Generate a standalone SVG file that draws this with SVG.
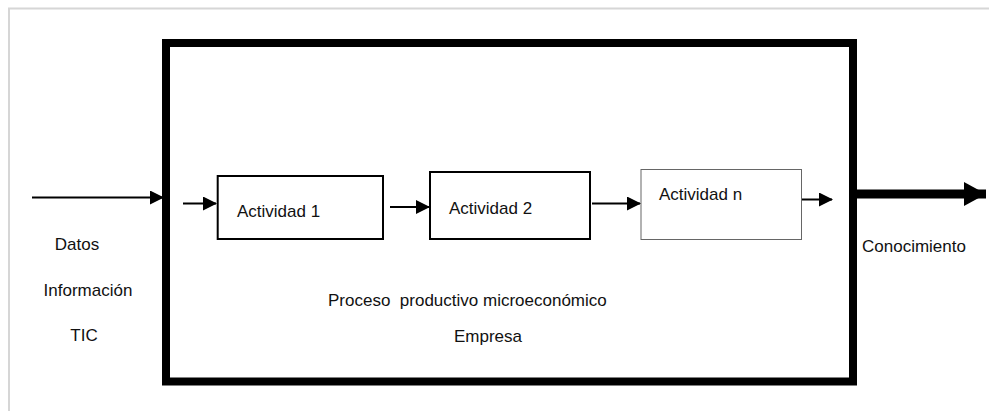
<svg xmlns="http://www.w3.org/2000/svg" width="989" height="411" viewBox="0 0 989 411">
<defs>
<style>
text{font-family:"Liberation Sans",Arial,sans-serif;font-size:17px;fill:#111;white-space:pre}
.box{fill:#fff;stroke:#000;stroke-width:2}
.conn{stroke:#000;stroke-width:2;fill:none}
</style>
<marker id="ah" markerWidth="14" markerHeight="14" refX="13" refY="7" orient="auto" markerUnits="userSpaceOnUse">
<path d="M0,0 L14,7 L0,14 Z" fill="#000"/>
</marker>
<marker id="ahbig" markerWidth="22" markerHeight="24" refX="22" refY="12" orient="auto" markerUnits="userSpaceOnUse">
<path d="M0,0 L22,12 L0,24 Z" fill="#000"/>
</marker>
</defs>
<rect width="989" height="411" fill="#fff"/>
<path d="M9,411 V8.5 H989" fill="none" stroke="#d6d6d6" stroke-width="2"/>
<g id="empresa">
<rect x="166" y="43" width="687" height="338.5" fill="none" stroke="#000" stroke-width="8"/>
<text x="328" y="306" xml:space="preserve">Proceso  productivo microeconómico</text>
<text x="454" y="342">Empresa</text>
</g>
<g id="actividad1">
<rect class="box" x="217.7" y="176" width="165.3" height="63"/>
<text x="237" y="217">Actividad 1</text>
</g>
<g id="actividad2">
<rect class="box" x="430" y="172" width="160" height="67"/>
<text x="449" y="214">Actividad 2</text>
</g>
<g id="actividadn">
<rect x="641" y="169.5" width="160.5" height="70" fill="#fff" stroke="#666" stroke-width="1"/>
<text x="659" y="200">Actividad n</text>
</g>
<g id="entradas">
<text x="77" y="250" text-anchor="middle">Datos</text>
<text x="88" y="296" text-anchor="middle">Información</text>
<text x="84" y="341" text-anchor="middle">TIC</text>
</g>
<g id="salida">
<text x="862" y="252">Conocimiento</text>
</g>
<g id="connectors">
<line class="conn" x1="32" y1="197.5" x2="163" y2="197.5" marker-end="url(#ah)"/>
<line class="conn" x1="183" y1="203.5" x2="216" y2="203.5" marker-end="url(#ah)"/>
<line class="conn" x1="390" y1="207" x2="429" y2="207" marker-end="url(#ah)"/>
<line class="conn" x1="592" y1="203.5" x2="640" y2="203.5" marker-end="url(#ah)"/>
<line class="conn" x1="802" y1="199.5" x2="832" y2="199.5" marker-end="url(#ah)"/>
<line x1="857" y1="194" x2="986" y2="194" stroke="#000" stroke-width="9" marker-end="url(#ahbig)"/>
</g>
</svg>
